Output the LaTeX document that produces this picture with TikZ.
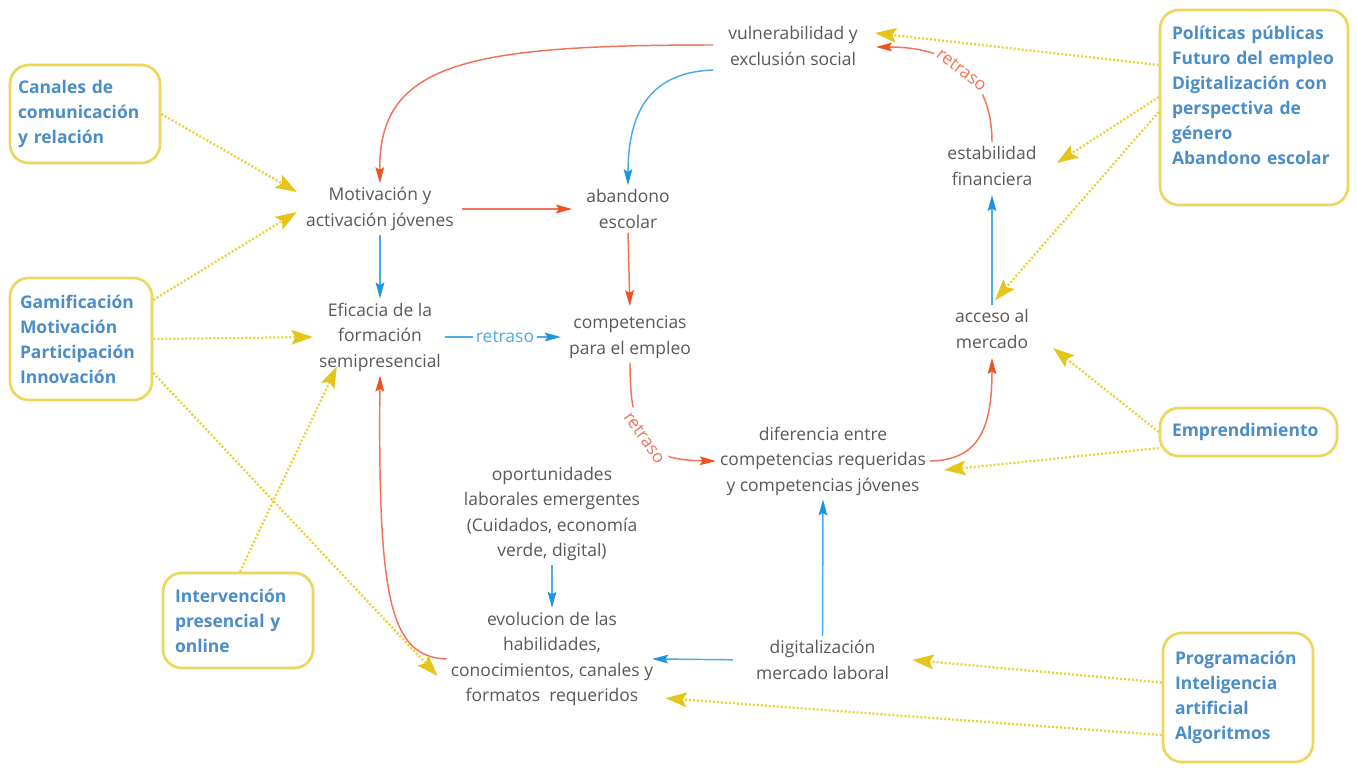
\documentclass[tikz,border=0pt]{standalone}
\usepackage{fontspec}
\setmainfont{Open Sans}
\usetikzlibrary{arrows.meta,calc}
\definecolor{txt}{HTML}{595959}
\definecolor{bxblue}{HTML}{4A8DC9}
\definecolor{bxline}{HTML}{EDD65C}
\definecolor{redl}{HTML}{F27458}
\definecolor{redh}{HTML}{F0521F}
\definecolor{bluel}{HTML}{4BAAE8}
\definecolor{blueh}{HTML}{1E95E0}
\definecolor{yell}{HTML}{E9D336}
\definecolor{yelh}{HTML}{E5C41B}
\tikzset{
 lbl/.style={align=center, text=txt, font=\fontsize{13.1}{19.1}\selectfont, inner sep=3pt},
 box/.style={draw=bxline, line width=2pt, rounded corners=14pt, fill=white, align=left, text=bxblue, inner ysep=4pt, font=\bfseries\fontsize{13.1}{18.75}\selectfont},
 redarr/.style={draw=redl, line width=1.1pt, -{Stealth[length=12pt,width=6.5pt,inset=2pt,color=redh]}},
 bluearr/.style={draw=bluel, line width=1.1pt, -{Stealth[length=12pt,width=6.5pt,inset=2pt,color=blueh]}},
 yelarr/.style={draw=yell, line width=1.7pt, dash pattern=on 1.5pt off 1.5pt, -{Stealth[length=16pt,width=11pt,inset=3pt,color=yelh]}},
 delayR/.style={font=\fontsize{13.1}{15}\selectfont, text=redl, fill=white, inner sep=2pt},
 delayB/.style={font=\fontsize{13.1}{15}\selectfont, text=bluel, fill=white, inner sep=2pt}
}
\begin{document}
\begin{tikzpicture}[x=0.75pt,y=-0.75pt]
\fill[white] (0,0) rectangle (1357,769);
\useasboundingbox (0,0) rectangle (1357,769);

% text nodes
\node[lbl] (vuln) at (793,46) {vulnerabilidad y\\exclusión social};
\node[lbl] (motiv) at (380,209) {Motivación y\\activación jóvenes};
\node[lbl] (aband) at (628,209) {abandono\\escolar};
\node[lbl] (efic) at (380,337) {Eficacia de la\\formación\\semipresencial};
\node[lbl] (comp) at (630,337) {competencias\\para el empleo};
\node[lbl] (estab) at (992,166) {estabilidad\\financiera};
\node[lbl] (acceso) at (992,329) {acceso al\\mercado};
\node[lbl] (dif) at (823,461) {diferencia entre\\competencias requeridas\\y competencias jóvenes};
\node[lbl] (oport) at (552,514) {oportunidades\\laborales emergentes\\(Cuidados, economía\\verde, digital)};
\node[lbl] (evol) at (552,659) {evolucion de las\\habilidades,\\conocimientos, canales y\\formatos\ \ requeridos};
\node[lbl] (digit) at (822.5,660) {digitalización\\mercado laboral};

% boxes
\node[box, text width=100.5pt, inner xsep=6pt, minimum height=73.5pt] (b1) at (85,114) {Canales de\\comunicación\\y relación};
\node[box, text width=91.5pt, inner xsep=7.5pt, minimum height=91.5pt] (b2) at (81,339) {Gamificación\\Motivación\\Participación\\Innovación};
\node[box, text width=94.5pt, inner xsep=9pt, minimum height=71.25pt] (b3) at (238,620.5) {Intervención\\presencial y\\online};
\node[box, text width=123pt, inner xsep=9pt, minimum height=146.25pt] (b4) at (1254,107.5) {Políticas públicas\\Futuro del empleo\\Digitalización con\\perspectiva de\\género\\Abandono escolar\\\mbox{}};
\node[box, text width=114.75pt, inner xsep=9pt, minimum height=36pt] (b5) at (1248.5,432) {Emprendimiento};
\node[box, text width=94.5pt, inner xsep=9pt, minimum height=96.75pt] (b6) at (1238,697.5) {Programación\\Inteligencia\\artificial\\Algoritmos};

% red links
\draw[redarr] ([shift={(-11,-1)}]vuln.west) .. controls (470,45) and (378,62) .. (motiv.north);
\draw[redarr, shorten <=3pt, shorten >=7.5pt] (motiv.east) -- (aband.west);
\draw[redarr, shorten >=4pt] (aband.south) -- (comp.north);
\draw[redarr] (comp.south) .. controls (630,445) and (650,460) .. (dif.west) node[pos=0.45, sloped, delayR] {retraso};
\draw[redarr, shorten >=4pt] (dif.east) .. controls (978,460) and (992,430) .. (acceso.south);
\draw[redarr] (estab.north) .. controls (992,75) and (950,47) .. ([shift={(14,1)}]vuln.east) node[pos=0.5, sloped, delayR] {retraso};
\draw[redarr] (evol.west) .. controls (390,657) and (378,600) .. (efic.south);

% blue links
\draw[bluearr] ([shift={(-11,24)}]vuln.west) .. controls (660,72) and (628,100) .. (aband.north);
\draw[bluearr] (motiv.south) -- (efic.north);
\draw[bluearr, shorten >=3pt] (efic.east) -- (comp.west) node[midway, delayB] {retraso};
\draw[bluearr, shorten >=4pt] (acceso.north) -- (estab.south);
\draw[bluearr] (digit.north) -- (dif.south);
\draw[bluearr, shorten <=14pt, shorten >=-4pt] (digit.west) -- (evol.east);
\draw[bluearr] (oport.south) -- (evol.north);

% yellow influences
\draw[yelarr] (b1.east) -- ([shift={(-5,-17)}]motiv.west);
\draw[yelarr] ([shift={(0,-39)}]b2.east) -- ([shift={(-5,3)}]motiv.west);
\draw[yelarr] (b2.east) -- ([shift={(-2,0)}]efic.west);
\draw[yelarr] ([shift={(0,34)}]b2.east) -- ([shift={(-9,17)}]evol.west);
\draw[yelarr] ([shift={(2,0)}]b3.north) -- ([shift={(22,-9)}]efic.south west);
\draw[yelarr] ([shift={(0,-42.5)}]b4.west) -- ([shift={(13,-13)}]vuln.east);
\draw[yelarr] ([shift={(0,-10.5)}]b4.west) -- ([shift={(16,-3)}]estab.east);
\draw[yelarr] ([shift={(0,4.5)}]b4.west) -- ([shift={(3,-5)}]acceso.north);
\draw[yelarr] (b5.west) -- ([shift={(20,19)}]acceso.east);
\draw[yelarr] ([shift={(0,16)}]b5.west) -- ([shift={(14,9)}]dif.east);
\draw[yelarr] ([shift={(0,-15)}]b6.west) -- ([shift={(19,0)}]digit.east);
\draw[yelarr] ([shift={(0,37.5)}]b6.west) -- ([shift={(8,-12)}]evol.south east);
\end{tikzpicture}
\end{document}
